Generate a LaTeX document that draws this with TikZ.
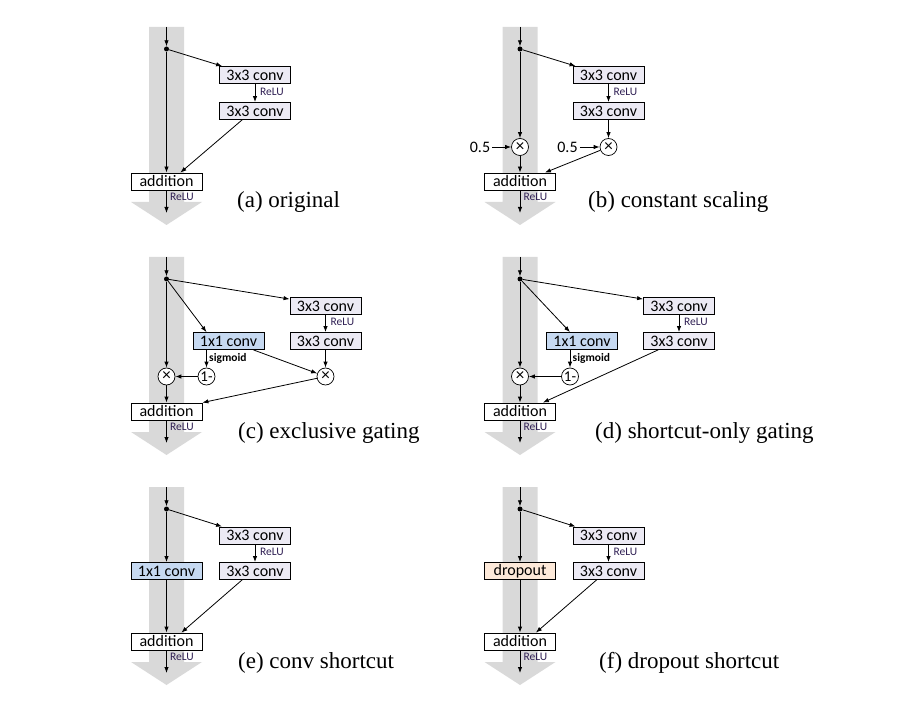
\documentclass[tikz,border=0pt]{standalone}
\usepackage{fontspec}
\setmainfont{Liberation Serif}
\newfontfamily\boxfont{Carlito}
\usetikzlibrary{arrows.meta, calc}
\definecolor{BandGray}{RGB}{217,217,217}
\definecolor{ConvFill}{RGB}{236,234,244}
\definecolor{GateFill}{RGB}{198,217,241}
\definecolor{DropFill}{RGB}{253,233,217}
\definecolor{ReluText}{RGB}{48,32,84}

\begin{document}
\begin{tikzpicture}[x=1pt, y=-1pt, >={Latex[length=6pt,width=4.4pt]},
    layer/.style={draw, line width=0.8pt, minimum width=71pt, minimum height=17pt,
      inner sep=0pt, font=\boxfont\fontsize{16}{16}\selectfont},
    convbox/.style={layer, fill=ConvFill},
    gatebox/.style={layer, fill=GateFill},
    dropbox/.style={layer, fill=DropFill},
    addbox/.style={layer, fill=white},
    splitdot/.style={circle, fill, inner sep=0pt, minimum size=5pt},
    opnode/.style={circle, draw, fill=white, line width=0.7pt, inner sep=0pt,
      minimum size=17pt, font=\boxfont\fontsize{15}{15}\selectfont},
    mulnode/.style={opnode, font=\boxfont\fontsize{17}{17}\selectfont},
    flowline/.style={->, line width=0.8pt},
    relu/.style={font=\boxfont\fontsize{11.5}{11.5}\selectfont, text=ReluText, inner sep=0pt},
    sig/.style={font=\boxfont\bfseries\fontsize{11.5}{11.5}\selectfont, inner sep=0pt, anchor=west},
    halfval/.style={font=\boxfont\fontsize{16}{16}\selectfont, inner sep=2pt},
    capt/.style={font=\fontsize{23}{23}\selectfont, inner sep=0pt, anchor=base west}]
  \useasboundingbox (0,0) rectangle (924,703);

  % gray identity bands and captions
  \foreach \px/\py/\cx/\cap [count=\i] in {
    166.5/49/237/(a) original,
    520/49/588/(b) constant scaling,
    166.5/279/238/(c) exclusive gating,
    520/279/595/(d) shortcut-only gating,
    166.5/509/238/(e) conv shortcut,
    520/509/599/(f) dropout shortcut} {
    \begin{scope}[shift={(\px,\py)}]
      \fill[BandGray] (-17.5,-22) -- (17.5,-22) -- (17.5,153) -- (35.5,153)
        -- (0,176) -- (-35.5,153) -- (-17.5,153) -- cycle;
    \end{scope}
    \node[capt] (capt\i) at (\cx,{\py+159}) {\cap};
  }

  % (a) original
  \begin{scope}[shift={(166.5,49)}]
    \coordinate (aIn) at (0,-22);
    \node[splitdot] (aDot) at (0,0) {};
    \node[convbox] (aConvA) at (88.5,26) {3x3 conv};
    \node[convbox] (aConvB) at (88.5,62) {3x3 conv};
    \node[addbox] (aAdd) at (0,132.5) {addition};
    \coordinate (aOut) at (0,164);
    \draw[flowline] (aIn) -- (aDot);
    \draw[flowline] (aDot) -- (aAdd);
    \draw[flowline] (aDot) -- ($(aConvA.north west)+(3,0)$);
    \draw[flowline] (aConvA) -- (aConvB);
    \draw[flowline] ($(aConvB.south west)+(23,0)$) -- ($(aAdd.north east)+(-22,0)$);
    \draw[flowline] (aAdd) -- (aOut);
    \node[relu] (aReluA) at (105.5,43) {ReLU};
    \node[relu] (aReluB) at (15.5,148) {ReLU};
  \end{scope}

  % (b) constant scaling
  \begin{scope}[shift={(520,49)}]
    \coordinate (bIn) at (0,-22);
    \node[splitdot] (bDot) at (0,0) {};
    \node[convbox] (bConvA) at (88.5,26) {3x3 conv};
    \node[convbox] (bConvB) at (88.5,62) {3x3 conv};
    \node[mulnode] (bMulL) at (0,98) {×};
    \node[mulnode] (bMulR) at (88.5,98) {×};
    \node[halfval] (bHalfL) at (-40,98) {0.5};
    \node[halfval] (bHalfR) at (47.5,98) {0.5};
    \node[addbox] (bAdd) at (0,132.5) {addition};
    \coordinate (bOut) at (0,164);
    \draw[flowline] (bIn) -- (bDot);
    \draw[flowline] (bDot) -- (bMulL);
    \draw[flowline] (bMulL) -- (bAdd);
    \draw[flowline] (bHalfL) -- (bMulL);
    \draw[flowline] (bHalfR) -- (bMulR);
    \draw[flowline] (bDot) -- ($(bConvA.north west)+(3,0)$);
    \draw[flowline] (bConvA) -- (bConvB);
    \draw[flowline] (bConvB) -- (bMulR);
    \draw[flowline] (bMulR) -- ($(bAdd.north east)+(-11,0)$);
    \draw[flowline] (bAdd) -- (bOut);
    \node[relu] (bReluA) at (105.5,43) {ReLU};
    \node[relu] (bReluB) at (15.5,148) {ReLU};
  \end{scope}

  % (c) exclusive gating
  \begin{scope}[shift={(166.5,279)}]
    \coordinate (cIn) at (0,-22);
    \node[splitdot] (cDot) at (0,0) {};
    \node[convbox] (cConvA) at (159,27) {3x3 conv};
    \node[convbox] (cConvB) at (159,62) {3x3 conv};
    \node[gatebox] (cGate) at (62,62) {1x1 conv};
    \node[mulnode] (cMulL) at (0,97.5) {×};
    \node[opnode] (cOne) at (40,97.5) {1-};
    \node[mulnode] (cMulR) at (159,97.5) {×};
    \node[addbox] (cAdd) at (0,132.5) {addition};
    \coordinate (cOut) at (0,164);
    \draw[flowline] (cIn) -- (cDot);
    \draw[flowline] (cDot) -- (cMulL);
    \draw[flowline] (cMulL) -- (cAdd);
    \draw[flowline] (cDot) -- ($(cConvA.north west)+(0,2)$);
    \draw[flowline] (cConvA) -- (cConvB);
    \draw[flowline] (cDot) -- (cOne |- cGate.north);
    \draw[flowline] (cOne |- cGate.south) -- (cOne);
    \draw[flowline] (cOne) -- (cMulL);
    \draw[flowline] ($(cGate.south east)+(-11,0)$) -- (cMulR);
    \draw[flowline] (cConvB) -- (cMulR);
    \draw[flowline] (cMulR) -- (cAdd.north east);
    \draw[flowline] (cAdd) -- (cOut);
    \node[relu] (cReluA) at (176,43) {ReLU};
    \node[sig] (cSig) at (42.5,79) {sigmoid};
    \node[relu] (cReluB) at (15.5,148) {ReLU};
  \end{scope}

  % (d) shortcut-only gating
  \begin{scope}[shift={(520,279)}]
    \coordinate (dIn) at (0,-22);
    \node[splitdot] (dDot) at (0,0) {};
    \node[convbox] (dConvA) at (159,27) {3x3 conv};
    \node[convbox] (dConvB) at (159,62) {3x3 conv};
    \node[gatebox] (dGate) at (62,62) {1x1 conv};
    \node[mulnode] (dMulL) at (0,97.5) {×};
    \node[opnode] (dOne) at (50,97.5) {1-};
    \node[addbox] (dAdd) at (0,132.5) {addition};
    \coordinate (dOut) at (0,164);
    \draw[flowline] (dIn) -- (dDot);
    \draw[flowline] (dDot) -- (dMulL);
    \draw[flowline] (dMulL) -- (dAdd);
    \draw[flowline] (dDot) -- ($(dConvA.north west)+(0,2)$);
    \draw[flowline] (dConvA) -- (dConvB);
    \draw[flowline] (dDot) -- (dOne |- dGate.north);
    \draw[flowline] (dOne |- dGate.south) -- (dOne);
    \draw[flowline] (dOne) -- (dMulL);
    \draw[flowline] ($(dConvB.south west)+(15,0)$) -- ($(dAdd.north east)+(-13,0)$);
    \draw[flowline] (dAdd) -- (dOut);
    \node[relu] (dReluA) at (176,43) {ReLU};
    \node[sig] (dSig) at (52.5,79) {sigmoid};
    \node[relu] (dReluB) at (15.5,148) {ReLU};
  \end{scope}

  % (e) conv shortcut
  \begin{scope}[shift={(166.5,509)}]
    \coordinate (eIn) at (0,-22);
    \node[splitdot] (eDot) at (0,0) {};
    \node[convbox] (eConvA) at (88.5,26.5) {3x3 conv};
    \node[convbox] (eConvB) at (88.5,62) {3x3 conv};
    \node[gatebox] (eGate) at (0,62) {1x1 conv};
    \node[addbox] (eAdd) at (0,132.5) {addition};
    \coordinate (eOut) at (0,164);
    \draw[flowline] (eIn) -- (eDot);
    \draw[flowline] (eDot) -- (eGate);
    \draw[flowline] (eGate) -- (eAdd);
    \draw[flowline] (eDot) -- ($(eConvA.north west)+(3,0)$);
    \draw[flowline] (eConvA) -- (eConvB);
    \draw[flowline] ($(eConvB.south west)+(23,0)$) -- ($(eAdd.north east)+(-21,0)$);
    \draw[flowline] (eAdd) -- (eOut);
    \node[relu] (eReluA) at (105.5,43) {ReLU};
    \node[relu] (eReluB) at (15.5,148) {ReLU};
  \end{scope}

  % (f) dropout shortcut
  \begin{scope}[shift={(520,509)}]
    \coordinate (fIn) at (0,-22);
    \node[splitdot] (fDot) at (0,0) {};
    \node[convbox] (fConvA) at (88.5,26.5) {3x3 conv};
    \node[convbox] (fConvB) at (88.5,62) {3x3 conv};
    \node[dropbox] (fDrop) at (0,62) {dropout};
    \node[addbox] (fAdd) at (0,132.5) {addition};
    \coordinate (fOut) at (0,164);
    \draw[flowline] (fIn) -- (fDot);
    \draw[flowline] (fDot) -- (fDrop);
    \draw[flowline] (fDrop) -- (fAdd);
    \draw[flowline] (fDot) -- ($(fConvA.north west)+(3,0)$);
    \draw[flowline] (fConvA) -- (fConvB);
    \draw[flowline] ($(fConvB.south west)+(24,0)$) -- ($(fAdd.north east)+(-20,0)$);
    \draw[flowline] (fAdd) -- (fOut);
    \node[relu] (fReluA) at (105.5,43) {ReLU};
    \node[relu] (fReluB) at (15.5,148) {ReLU};
  \end{scope}
\end{tikzpicture}
\end{document}
